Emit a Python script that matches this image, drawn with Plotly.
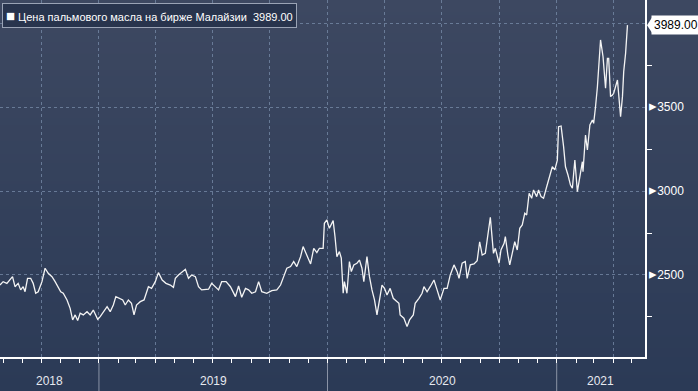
import base64, struct, zlib
import pandas as pd
import plotly.graph_objects as go

# ---------------- data ----------------
dates = [
    "2018-07-27","2018-08-01","2018-08-07","2018-08-12","2018-08-16","2018-08-20","2018-08-25","2018-08-29",
    "2018-09-02","2018-09-05","2018-09-09","2018-09-14","2018-09-18","2018-09-22","2018-09-26","2018-10-02",
    "2018-10-07","2018-10-12","2018-10-18","2018-10-23","2018-10-28","2018-11-01","2018-11-05","2018-11-11",
    "2018-11-16","2018-11-20","2018-11-24","2018-11-28","2018-12-02","2018-12-07","2018-12-13","2018-12-18",
    "2018-12-23","2018-12-30","2019-01-03","2019-01-08","2019-01-14","2019-01-19","2019-01-24","2019-01-28",
    "2019-02-03","2019-02-08","2019-02-12","2019-02-17","2019-02-22","2019-02-26","2019-03-02","2019-03-08",
    "2019-03-14","2019-03-21","2019-03-26","2019-04-01","2019-04-06","2019-04-12","2019-04-18","2019-04-25",
    "2019-04-30","2019-05-03","2019-05-08","2019-05-13","2019-05-19","2019-05-24","2019-05-29","2019-06-04",
    "2019-06-09","2019-06-14","2019-06-20","2019-06-25","2019-06-30","2019-07-06","2019-07-11","2019-07-16",
    "2019-07-23","2019-07-30","2019-08-07","2019-08-12","2019-08-17","2019-08-23","2019-08-28","2019-09-02",
    "2019-09-08","2019-09-13","2019-09-18","2019-09-26","2019-10-04","2019-10-12","2019-10-18","2019-10-23",
    "2019-10-28","2019-11-03","2019-11-08","2019-11-13","2019-11-19","2019-11-23","2019-11-29","2019-12-05",
    "2019-12-10","2019-12-15","2019-12-19","2019-12-25","2019-12-27","2019-12-31","2020-01-04","2020-01-10",
    "2020-01-13","2020-01-16","2020-01-20","2020-01-23","2020-01-26","2020-01-28","2020-02-01","2020-02-05",
    "2020-02-08","2020-02-12","2020-02-17","2020-02-21","2020-02-25","2020-02-28","2020-03-04","2020-03-08",
    "2020-03-12","2020-03-16","2020-03-20","2020-03-24","2020-03-28","2020-04-01","2020-04-05","2020-04-10",
    "2020-04-15","2020-04-18","2020-04-24","2020-04-26","2020-05-02","2020-05-07","2020-05-11","2020-05-17",
    "2020-05-20","2020-05-26","2020-05-31","2020-06-03","2020-06-08","2020-06-13","2020-06-19","2020-06-24",
    "2020-06-29","2020-07-05","2020-07-10","2020-07-15","2020-07-21","2020-07-26","2020-07-29","2020-08-03",
    "2020-08-08","2020-08-11","2020-08-16","2020-08-22","2020-08-27","2020-08-31","2020-09-04","2020-09-09",
    "2020-09-13","2020-09-17","2020-09-22","2020-09-25","2020-10-01","2020-10-04","2020-10-09","2020-10-11",
    "2020-10-15","2020-10-18","2020-10-22","2020-10-26","2020-10-30","2020-11-03","2020-11-07","2020-11-11",
    "2020-11-14","2020-11-18","2020-11-22","2020-11-25","2020-11-30","2020-12-03","2020-12-07","2020-12-11",
    "2020-12-16","2020-12-21","2020-12-25","2020-12-29","2021-01-02","2021-01-04","2021-01-08","2021-01-12",
    "2021-01-15","2021-01-19","2021-01-23","2021-01-26","2021-01-30","2021-02-03","2021-02-07","2021-02-11",
    "2021-02-12","2021-02-16","2021-02-19","2021-02-23","2021-02-27","2021-03-01","2021-03-04","2021-03-07",
    "2021-03-12","2021-03-16","2021-03-20","2021-03-23","2021-03-25","2021-03-28","2021-03-31","2021-04-02",
    "2021-04-08","2021-04-13","2021-04-16","2021-04-18","2021-04-21","2021-04-24",
]
prices = [
    2440,2460,2450,2470,2490,2430,2450,2411,
    2430,2400,2480,2480,2450,2391,2400,2460,
    2540,2510,2490,2460,2430,2400,2391,2351,
    2301,2232,2262,2228,2272,2262,2281,2262,
    2291,2236,2252,2281,2311,2281,2321,2371,
    2361,2351,2321,2351,2331,2262,2321,2341,
    2351,2430,2420,2460,2514,2470,2450,2440,
    2426,2480,2500,2514,2534,2480,2500,2490,
    2430,2411,2411,2415,2450,2426,2411,2460,
    2460,2430,2371,2434,2367,2420,2411,2391,
    2400,2460,2400,2391,2407,2411,2440,2490,
    2540,2550,2580,2550,2609,2669,2619,2566,
    2659,2633,2659,2659,2808,2828,2778,2824,
    2728,2609,2639,2600,2391,2460,2391,2580,
    2520,2560,2570,2589,2540,2460,2609,2490,
    2411,2351,2262,2351,2440,2420,2381,2420,
    2361,2351,2331,2262,2242,2192,2232,2262,
    2331,2361,2391,2430,2400,2430,2470,2411,
    2351,2420,2420,2500,2560,2520,2480,2570,
    2580,2480,2560,2566,2585,2698,2619,2629,
    2728,2844,2629,2659,2570,2649,2689,2728,
    2619,2560,2629,2698,2649,2778,2798,2868,
    2858,2987,2957,3007,2967,3007,2967,2957,
    3026,3096,3145,3126,3185,3384,3388,3265,
    3145,3096,3036,3017,3185,2997,3086,3175,
    3116,3334,3245,3394,3424,3404,3503,3622,
    3901,3801,3613,3791,3791,3563,3573,3583,
    3662,3444,3563,3712,3821,3989,
]
series_name = "Цена пальмового масла на бирже Малайзии"
last_label = "3989.00"
y_ticks = [2500, 3000, 3500, 4000]
y_tick_labels = ["2500", "3000", "3500", ""]
y_minor_ticks = [2250, 2750, 3250, 3750]
years = ["2018", "2019", "2020", "2021"]
x_range = ["2018-07-27", "2021-05-22"]
y_range = [2011, 4139]

# ---------------- background gradient image ----------------
def gradient_png(top, bottom, n=256):
    rows = b""
    for i in range(n):
        t = i / (n - 1)
        c = bytes(int(round(top[k] + (bottom[k] - top[k]) * t)) for k in range(3))
        rows += b"\x00" + c
    def chunk(tag, data):
        return struct.pack(">I", len(data)) + tag + data + struct.pack(">I", zlib.crc32(tag + data) & 0xffffffff)
    png = b"\x89PNG\r\n\x1a\n"
    png += chunk(b"IHDR", struct.pack(">IIBBBBB", 1, n, 8, 2, 0, 0, 0))
    png += chunk(b"IDAT", zlib.compress(rows))
    png += chunk(b"IEND", b"")
    return "data:image/png;base64," + base64.b64encode(png).decode()

W, H = 698, 391
ML, MR, MT, MB = 0, 53, 0, 34
pw, ph = W - ML - MR, H - MT - MB

fig = go.Figure()
fig.add_trace(go.Scatter(
    x=dates, y=prices, mode="lines", name=series_name,
    line=dict(color="#f4f4f4", width=1.3), showlegend=False,
))

grid_col = "rgba(120,140,170,0.75)"
fig.update_xaxes(
    type="date", range=x_range, showline=True, linecolor="white", linewidth=1.5,
    dtick="M3", tick0="2018-01-01", showgrid=True, gridcolor=grid_col, griddash="3px,3px", gridwidth=1,
    ticks="outside", ticklen=4, tickcolor="white", showticklabels=False,
    minor=dict(dtick="M1", ticks="outside", ticklen=4, tickcolor="white", showgrid=False),
    zeroline=False, fixedrange=True,
)
fig.update_yaxes(
    side="right", range=y_range, showline=True, linecolor="white", linewidth=1.5,
    tickvals=y_ticks,
    ticktext=["<span style='font-size:15px'>▸</span>" + t if t else "" for t in y_tick_labels],
    ticks="", showgrid=True, gridcolor=grid_col, griddash="3px,3px", gridwidth=1,
    tickfont=dict(color="white", size=12, family="Liberation Sans"),
    minor=dict(tickvals=y_minor_ticks, ticks="outside", ticklen=5, tickcolor="white", showgrid=False),
    zeroline=False, fixedrange=True,
)

# year separators and labels
shapes = []
annotations = []
start = pd.Timestamp(x_range[0])
end = pd.Timestamp(x_range[1])
for yr in years:
    y0 = max(pd.Timestamp(f"{yr}-01-01"), start)
    y1 = min(pd.Timestamp(f"{int(yr)+1}-01-01"), end)
    mid = y0 + (y1 - y0) / 2
    annotations.append(dict(x=mid, y=-24 / ph, xref="x", yref="paper", text=yr, showarrow=False,
                            font=dict(color="#e6e9ef", size=12, family="Liberation Sans"),
                            xanchor="center", yanchor="middle"))
    if pd.Timestamp(f"{yr}-01-01") > start:
        shapes.append(dict(type="line", xref="x", yref="paper", x0=f"{yr}-01-01", x1=f"{yr}-01-01",
                           y0=-6 / ph, y1=-MB / ph, line=dict(color="#8a93a6", width=1)))

# legend-like box
annotations.append(dict(
    x=0, y=1, xref="paper", yref="paper", xanchor="left", yanchor="top", xshift=2, yshift=-3,
    text=f"<span style='font-size:15px'>■</span> {series_name}  {last_label}", showarrow=False,
    font=dict(color="white", size=11, family="Liberation Sans"),
    bgcolor="#28344d", bordercolor="#9aa3b5", borderwidth=1, borderpad=3, align="left",
))
# last value label on the right axis
annotations.append(dict(
    x=1, y=prices[-1], xref="paper", yref="y", xanchor="left", yanchor="middle", xshift=6,
    text=last_label, showarrow=False, font=dict(color="black", size=12, family="Liberation Sans"),
    bgcolor="white", borderpad=2,
))
shapes.append(dict(type="path", xref="paper", yref="y",
                   path=f"M {1 + 2 / pw},{prices[-1]} L {1 + 7 / pw},{prices[-1] + 45} L {1 + 7 / pw},{prices[-1] - 45} Z",
                   fillcolor="white", line=dict(width=0)))

fig.update_layout(
    width=W, height=H, margin=dict(l=ML, r=MR, t=MT, b=MB),
    paper_bgcolor="#2c3a56", plot_bgcolor="rgba(0,0,0,0)",
    shapes=shapes, annotations=annotations,
    images=[dict(source=gradient_png((61, 72, 97), (43, 58, 86)), xref="paper", yref="paper",
                 x=0, y=1, sizex=W / pw, sizey=H / ph, xanchor="left", yanchor="top",
                 sizing="stretch", layer="below")],
    font=dict(family="Liberation Sans"),
)
fig.write_html("out.html", config={"displayModeBar": False},
               post_script="document.body.style.margin='0px';document.body.style.overflow='hidden';")
